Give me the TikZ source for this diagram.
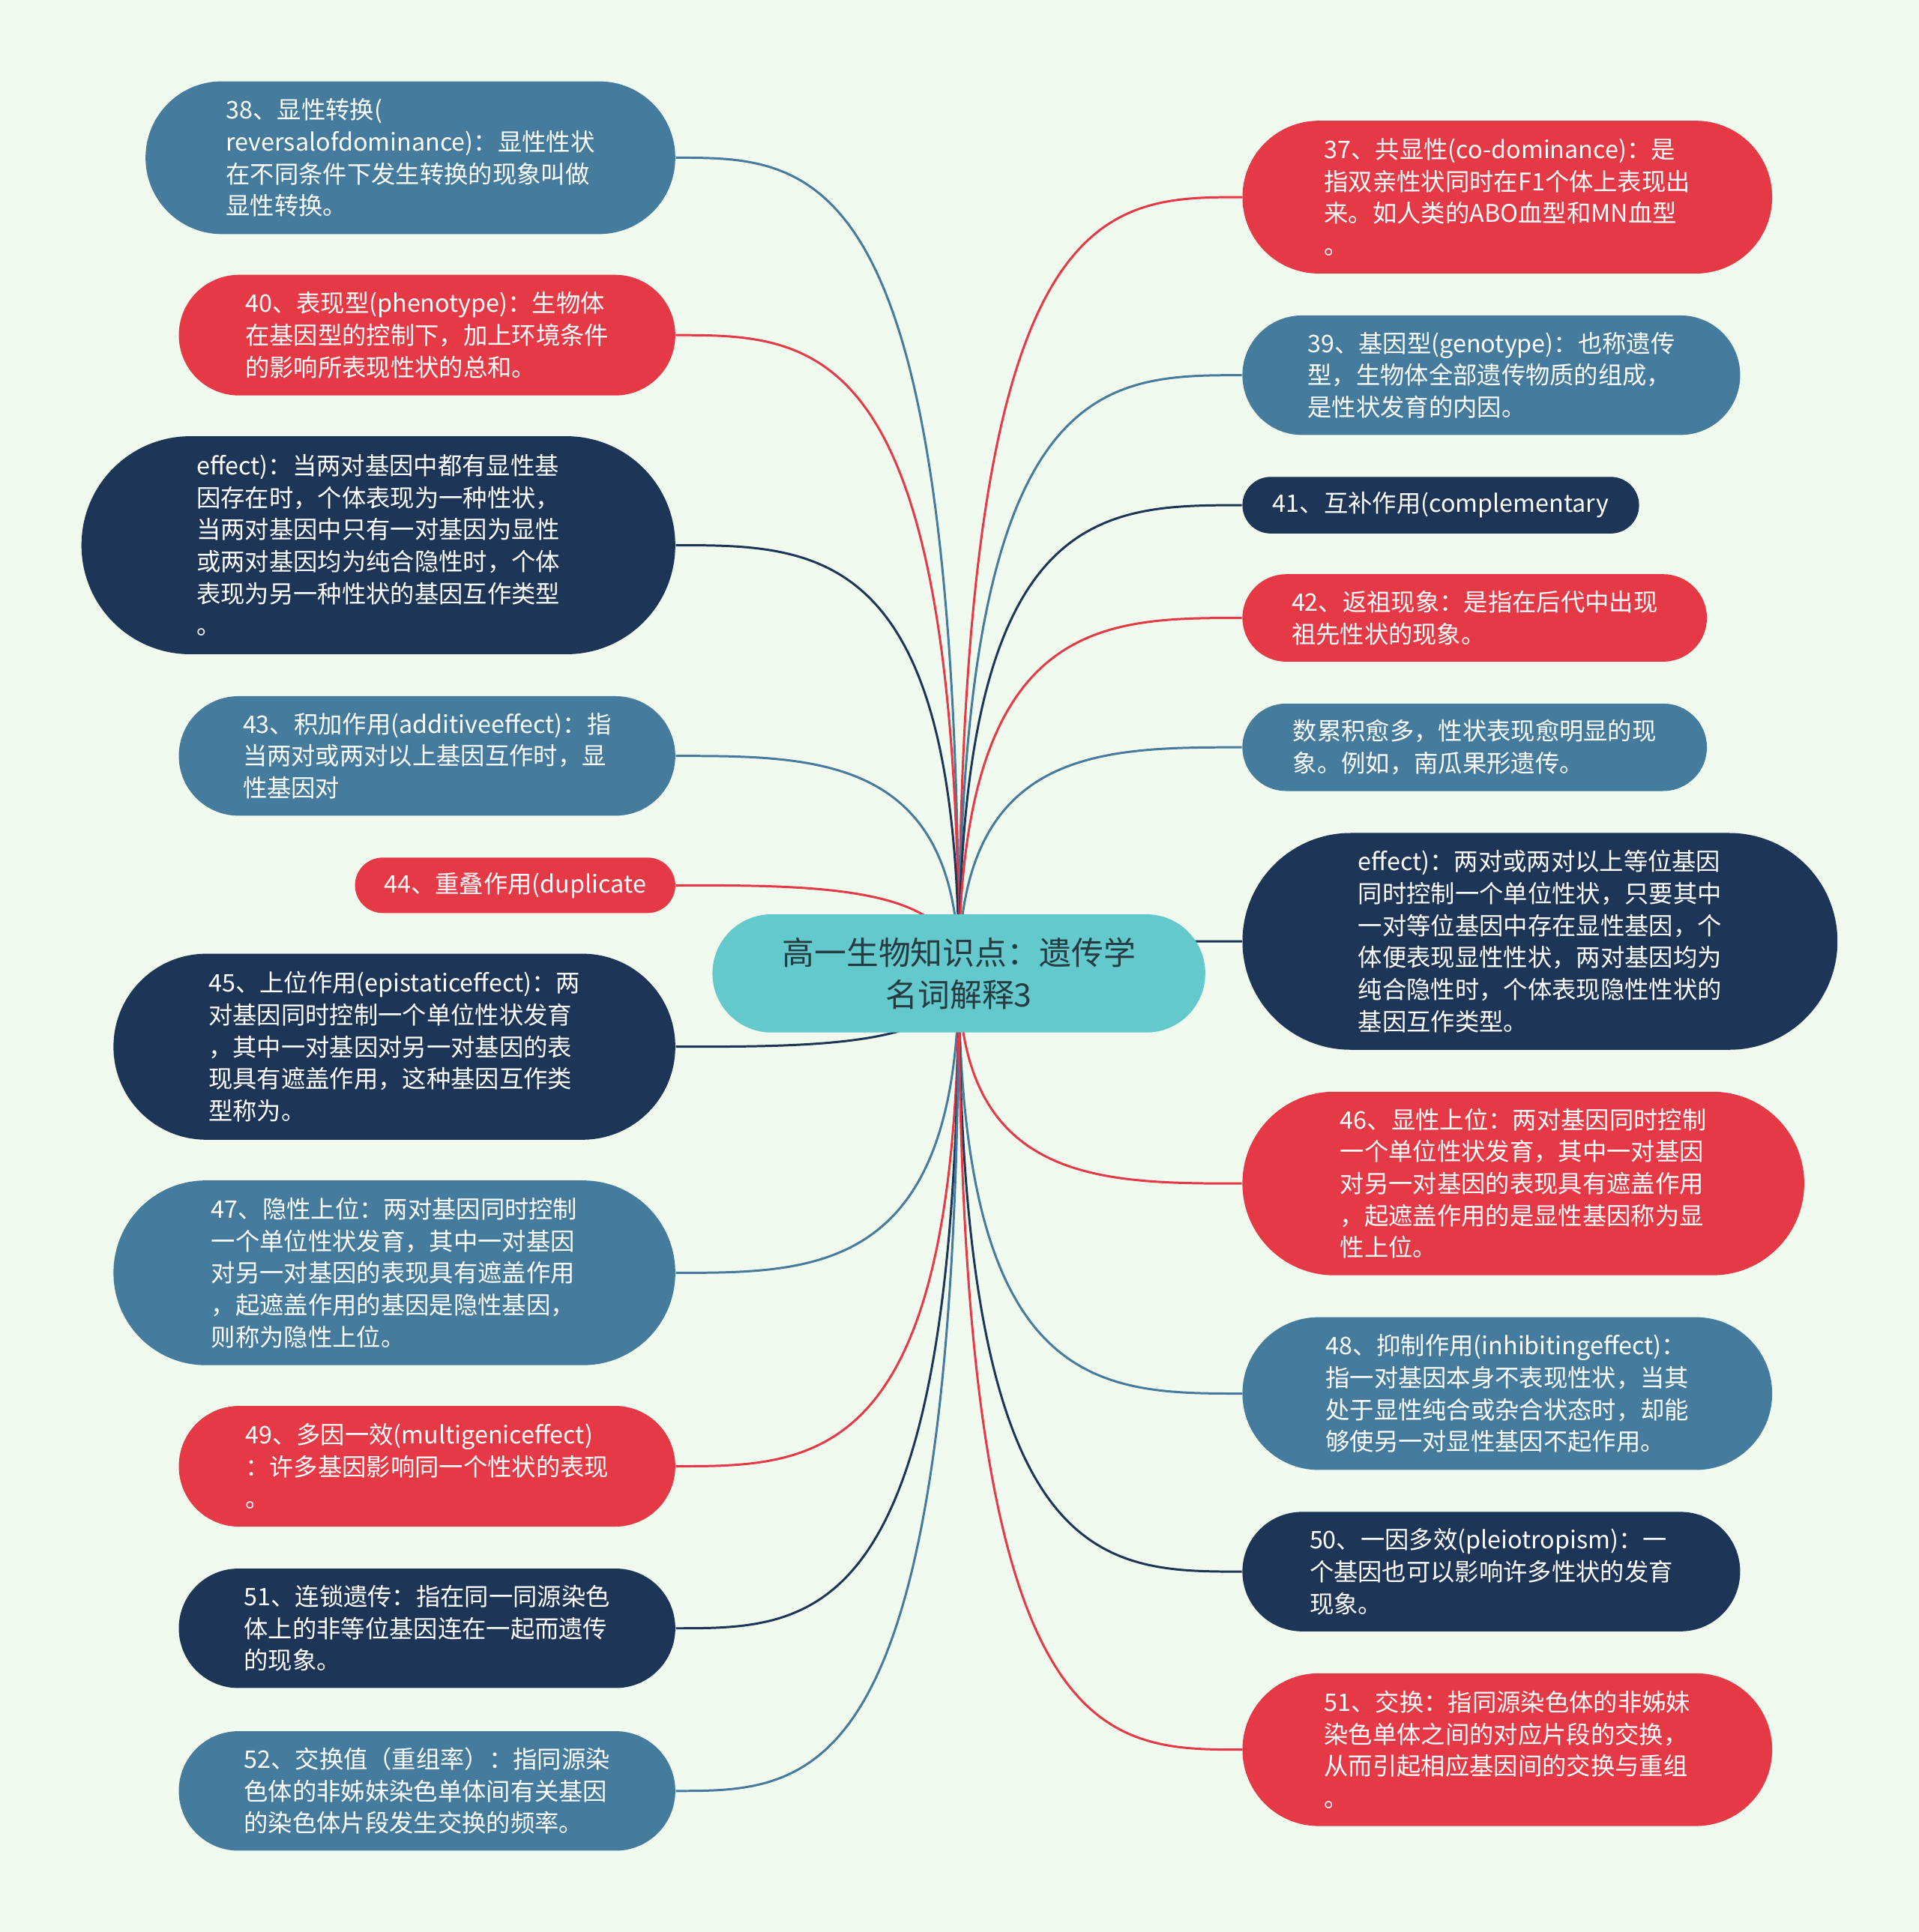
\documentclass[tikz,border=0pt]{standalone}
\usepackage{fontspec}
\newfontfamily\cjk{Noto Sans CJK SC}
\usetikzlibrary{calc,backgrounds}
\definecolor{bgpale}{HTML}{F1FAEE}
\definecolor{leafblue}{HTML}{457B9D}
\definecolor{leafred}{HTML}{E63946}
\definecolor{leafnavy}{HTML}{1D3557}
\definecolor{hubteal}{HTML}{63C9CD}
\definecolor{hubtext}{HTML}{263B3F}

\begin{document}
\begin{tikzpicture}[x=0.016442cm,y=-0.016442cm,
  leaf/.style n args={3}{fill=#1,text=white,align=left,inner sep=0pt,
    minimum width=#2cm,minimum height=#3cm,rounded corners=#3cm*0.499,
    font=\cjk\fontsize{9.2}{12.15}\selectfont},
  hub/.style={fill=hubteal,text=hubtext,align=center,inner sep=0pt,
    minimum width=6.577cm,minimum height=1.578cm,rounded corners=0.788cm,
    font=\cjk\fontsize{12.2}{15.9}\selectfont},
  link/.style={line width=0.85pt}]
  \useasboundingbox (0,0) rectangle (1557,1568);
  % left column
  \node[leaf={leafblue}{7.070}{2.039}] (t38) at (333,128) {38、显性转换(\\reversalofdominance)：显性性状\\在不同条件下发生转换的现象叫做\\显性转换。};
  \node[leaf={leafred}{6.626}{1.611}] (t40) at (346.5,272) {40、表现型(phenotype)：生物体\\在基因型的控制下，加上环境条件\\的影响所表现性状的总和。};
  \node[leaf={leafnavy}{7.925}{2.910}] (t41x) at (307,442.5) {effect)：当两对基因中都有显性基\\因存在时，个体表现为一种性状，\\当两对基因中只有一对基因为显性\\或两对基因均为纯合隐性时，个体\\表现为另一种性状的基因互作类型\\。};
  \node[leaf={leafblue}{6.626}{1.595}] (t43) at (346.5,613.5) {43、积加作用(additiveeffect)：指\\当两对或两对以上基因互作时，显\\性基因对};
  \node[leaf={leafred}{4.275}{0.740}] (t44) at (418,718.5) {44、重叠作用(duplicate};
  \node[leaf={leafnavy}{7.498}{2.483}] (t45) at (320,849.5) {45、上位作用(epistaticeffect)：两\\对基因同时控制一个单位性状发育\\，其中一对基因对另一对基因的表\\现具有遮盖作用，这种基因互作类\\型称为。};
  \node[leaf={leafblue}{7.498}{2.466}] (t47) at (320,1033) {47、隐性上位：两对基因同时控制\\一个单位性状发育，其中一对基因\\对另一对基因的表现具有遮盖作用\\，起遮盖作用的基因是隐性基因，\\则称为隐性上位。};
  \node[leaf={leafred}{6.626}{1.611}] (t49) at (346.5,1190) {49、多因一效(multigeniceffect)\\：许多基因影响同一个性状的表现\\。};
  \node[leaf={leafnavy}{6.626}{1.595}] (t51a) at (346.5,1321.5) {51、连锁遗传：指在同一同源染色\\体上的非等位基因连在一起而遗传\\的现象。};
  \node[leaf={leafblue}{6.626}{1.595}] (t52) at (346.5,1453.5) {52、交换值（重组率）：指同源染\\色体的非姊妹染色单体间有关基因\\的染色体片段发生交换的频率。};
  % right column
  \node[leaf={leafred}{7.070}{2.039}] (t37) at (1223,160) {37、共显性(co-dominance)：是\\指双亲性状同时在F1个体上表现出\\来。如人类的ABO血型和MN血型\\。};
  \node[leaf={leafblue}{6.643}{1.595}] (t39) at (1210,304.5) {39、基因型(genotype)：也称遗传\\型，生物体全部遗传物质的组成，\\是性状发育的内因。};
  \node[leaf={leafnavy}{5.294}{0.756}] (t41) at (1169,410) {41、互补作用(complementary};
  \node[leaf={leafred}{6.199}{1.167}] (t42) at (1196.5,501.5) {42、返祖现象：是指在后代中出现\\祖先性状的现象。};
  \node[leaf={leafblue}{6.199}{1.167}] (t43x) at (1196.5,606.5) {数累积愈多，性状表现愈明显的现\\象。例如，南瓜果形遗传。};
  \node[leaf={leafnavy}{7.941}{2.894}] (t44x) at (1249.5,764) {effect)：两对或两对以上等位基因\\同时控制一个单位性状，只要其中\\一对等位基因中存在显性基因，个\\体便表现显性性状，两对基因均为\\纯合隐性时，个体表现隐性性状的\\基因互作类型。};
  \node[leaf={leafred}{7.498}{2.450}] (t46) at (1236,960.5) {46、显性上位：两对基因同时控制\\一个单位性状发育，其中一对基因\\对另一对基因的表现具有遮盖作用\\，起遮盖作用的是显性基因称为显\\性上位。};
  \node[leaf={leafblue}{7.070}{2.039}] (t48) at (1223,1131) {48、抑制作用(inhibitingeffect)：\\指一对基因本身不表现性状，当其\\处于显性纯合或杂合状态时，却能\\够使另一对显性基因不起作用。};
  \node[leaf={leafnavy}{6.643}{1.595}] (t50) at (1210,1275.5) {50、一因多效(pleiotropism)：一\\个基因也可以影响许多性状的发育\\现象。};
  \node[leaf={leafred}{7.070}{2.039}] (t51b) at (1223,1420) {51、交换：指同源染色体的非姊妹\\染色单体之间的对应片段的交换，\\从而引起相应基因间的交换与重组\\。};
  % centre
  \node[hub] (hub) at (778,790) {高一生物知识点：遗传学\\名词解释3};
  \begin{pgfonlayer}{background}
    \fill[bgpale] (0,0) rectangle (1557,1568);
    \foreach \n/\c in {t38/leafblue,t40/leafred,t41x/leafnavy,t43/leafblue,t44/leafred,t45/leafnavy,t47/leafblue,t49/leafred,t51a/leafnavy,t52/leafblue}
      \draw[link,\c] (hub.center) .. controls (hub.center |- \n.east) and ($(hub.center |- \n.east)!.5!(\n.east)$) .. (\n.east);
    \foreach \n/\c in {t37/leafred,t39/leafblue,t41/leafnavy,t42/leafred,t43x/leafblue,t44x/leafnavy,t46/leafred,t48/leafblue,t50/leafnavy,t51b/leafred}
      \draw[link,\c] (hub.center) .. controls (hub.center |- \n.west) and ($(hub.center |- \n.west)!.5!(\n.west)$) .. (\n.west);
  \end{pgfonlayer}
\end{tikzpicture}
\end{document}
